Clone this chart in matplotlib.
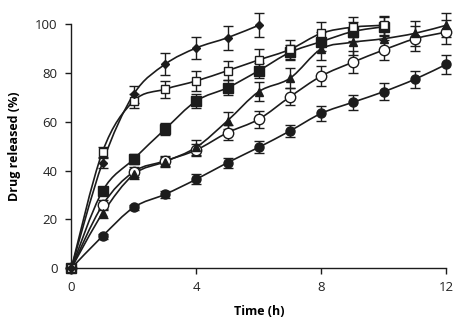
import matplotlib
matplotlib.use("Agg")
import matplotlib.pyplot as plt
from matplotlib.path import Path
from matplotlib.patches import PathPatch

# Release profiles (% drug released vs time in hours) with SD
t_diamond = [0, 1, 2, 3, 4, 5, 6]
diamond = [0, 43.3, 71.4, 83.6, 90.3, 94.5, 99.6]
diamond_sd = [0, 2.0, 3.5, 4.5, 4.5, 5.0, 5.0]

t_osq = [0, 1, 2, 3, 4, 5, 6, 7, 8, 9, 10]
open_square = [0, 47.8, 68.6, 73.4, 76.8, 81.0, 85.4, 89.7, 96.3, 98.8, 99.6]
open_square_sd = [0, 2.0, 3.0, 3.5, 4.0, 4.0, 4.5, 4.0, 4.5, 4.0, 4.0]

t_fsq = [0, 1, 2, 3, 4, 5, 6, 7, 8, 9, 10]
filled_square = [0, 31.7, 44.8, 57.0, 68.6, 74.0, 81.0, 88.5, 92.9, 97.0, 99.0]
filled_square_sd = [0, 1.0, 2.0, 2.5, 3.0, 3.0, 3.0, 3.0, 4.0, 4.0, 4.0]

t_tri = [0, 1, 2, 3, 4, 5, 6, 7, 8, 9, 10, 11, 12]
triangle = [0, 22.5, 38.5, 43.7, 49.6, 60.5, 72.4, 77.9, 89.9, 92.6, 94.1, 96.3, 99.6]
triangle_sd = [0, 2.0, 2.0, 2.0, 3.0, 3.5, 4.0, 4.0, 4.5, 5.0, 5.0, 5.0, 5.0]

t_oc = [0, 1, 2, 3, 4, 5, 6, 7, 8, 9, 10, 11, 12]
open_circle = [0, 25.9, 39.6, 44.0, 48.5, 55.6, 61.1, 70.3, 78.8, 84.4, 89.5, 94.1, 96.8]
open_circle_sd = [0, 2.0, 2.0, 2.0, 2.5, 3.0, 3.5, 3.5, 4.0, 4.5, 4.0, 5.0, 5.0]

t_fc = [0, 1, 2, 3, 4, 5, 6, 7, 8, 9, 10, 11, 12]
filled_circle = [0, 13.2, 25.0, 30.3, 36.5, 43.3, 49.6, 56.3, 63.5, 68.0, 72.4, 77.5, 83.6]
filled_circle_sd = [0, 1.0, 1.0, 1.5, 2.0, 2.0, 2.5, 2.5, 3.0, 3.0, 3.5, 3.5, 4.0]

x_ticks = [0, 4, 8, 12]
y_ticks = [0, 20, 40, 60, 80, 100]

plt.rcParams['font.family'] = ['Open Sans', 'DejaVu Sans']

ink = '#1c1c1c'
fig = plt.figure(figsize=(4.62, 3.26), dpi=100)
ax = fig.add_axes([0.1543, 0.177, 0.8117, 0.7485])


def smooth_path(t, y):
    """Cubic Bezier path through the points (spreadsheet-style smoothed line)."""
    verts = [(t[0], y[0])]
    codes = [Path.MOVETO]
    n = len(t)
    for i in range(n - 1):
        p0 = (t[i - 1], y[i - 1]) if i > 0 else (t[i], y[i])
        p1 = (t[i], y[i])
        p2 = (t[i + 1], y[i + 1])
        p3 = (t[i + 2], y[i + 2]) if i + 2 < n else p2
        c1 = (p1[0] + (p2[0] - p0[0]) / 6.0, p1[1] + (p2[1] - p0[1]) / 6.0)
        c2 = (p2[0] - (p3[0] - p1[0]) / 6.0, p2[1] - (p3[1] - p1[1]) / 6.0)
        verts += [c1, c2, p2]
        codes += [Path.CURVE4] * 3
    return Path(verts, codes)


series = [
    (t_fc, filled_circle, filled_circle_sd, 'o', 6.5, ink),
    (t_oc, open_circle, open_circle_sd, 'o', 7.5, 'white'),
    (t_tri, triangle, triangle_sd, '^', 5.5, ink),
    (t_fsq, filled_square, filled_square_sd, 's', 6.5, ink),
    (t_osq, open_square, open_square_sd, 's', 5.5, 'white'),
    (t_diamond, diamond, diamond_sd, 'D', 4.0, ink),
]

for t, y, sd, m, ms, fc in series:
    ax.add_patch(PathPatch(smooth_path(t, y), facecolor='none',
                           edgecolor=ink, lw=1.2, zorder=2, clip_on=False))
    ax.errorbar(t, y, yerr=sd, fmt='none', ecolor=ink, elinewidth=1.0,
                capsize=3.5, capthick=1.0, clip_on=False, zorder=3)
    ax.plot(t, y, ls='none', marker=m, ms=ms, mfc=fc, mec=ink, mew=1.0,
            clip_on=False, zorder=4)

ax.set_xlim(0, 12)
ax.set_ylim(0, 100)
ax.set_xticks(x_ticks)
ax.set_yticks(y_ticks)
for s in ['top', 'right']:
    ax.spines[s].set_visible(False)
for s in ['left', 'bottom']:
    ax.spines[s].set_linewidth(1.0)
    ax.spines[s].set_color(ink)
ax.tick_params(direction='out', length=4, width=1.0, color=ink,
               labelsize=9.5, labelcolor='#222222')
ax.tick_params(axis='y', pad=6)
ax.tick_params(axis='x', pad=5)
ax.set_xlabel('Time (h)', fontsize=9, fontweight='bold', labelpad=8)
ax.set_ylabel('Drug released (%)', fontsize=9, fontweight='bold', labelpad=10)

fig.savefig('out.png', dpi=100)
